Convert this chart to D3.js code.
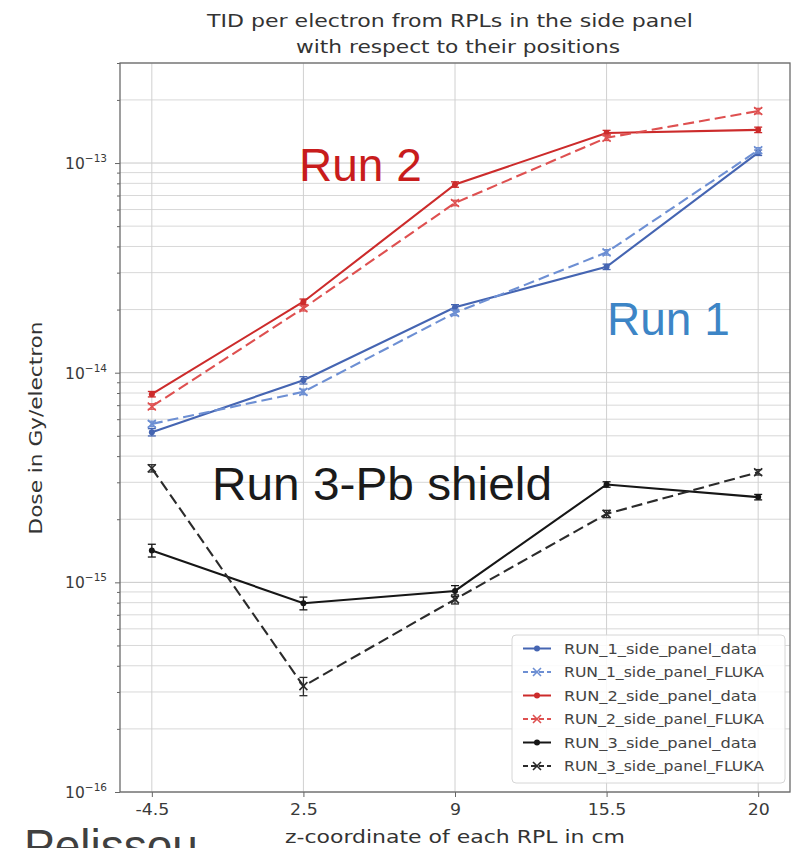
<!DOCTYPE html>
<html>
<head>
<meta charset="utf-8">
<script src="https://cdn.jsdelivr.net/npm/d3@7"></script>
<style>
  html, body { margin: 0; padding: 0; background: #fff; }
  svg { display: block; }
</style>
</head>
<body>
<svg id="chart" width="800" height="848"></svg>
<script>
// RPL positions along z (cm), shown as evenly spaced categories
const positions = ["-4.5", "2.5", "9", "15.5", "20"];

// Total ionising dose per electron (Gy/electron)
const run1Data  = [5.2e-15, 9.2e-15, 2.05e-14, 3.2e-14, 1.12e-13];
const run1Fluka = [5.7e-15, 8.1e-15, 1.93e-14, 3.75e-14, 1.15e-13];
const run2Data  = [7.9e-15, 2.18e-14, 7.9e-14, 1.39e-13, 1.44e-13];
const run2Fluka = [6.9e-15, 2.03e-14, 6.45e-14, 1.32e-13, 1.77e-13];
const run3Data  = [1.42e-15, 7.95e-16, 9.1e-16, 2.93e-15, 2.55e-15];
const run3Fluka = [3.5e-15, 3.2e-16, 8.3e-16, 2.12e-15, 3.35e-15];

// Relative uncertainties per point
const run1DataErr  = [0.04, 0.04, 0.03, 0.03, 0.03];
const run1FlukaErr = [0.03, 0.03, 0.03, 0.03, 0.03];
const run2DataErr  = [0.03, 0.03, 0.03, 0.03, 0.03];
const run2FlukaErr = [0.03, 0.03, 0.03, 0.03, 0.03];
const run3DataErr  = [0.07, 0.07, 0.06, 0.03, 0.03];
const run3FlukaErr = [0.04, 0.1, 0.05, 0.04, 0.03];

const seriesNames = [
  "RUN_1_side_panel_data", "RUN_1_side_panel_FLUKA",
  "RUN_2_side_panel_data", "RUN_2_side_panel_FLUKA",
  "RUN_3_side_panel_data", "RUN_3_side_panel_FLUKA"
];
const yTickLabels = ["−16", "−15", "−14", "−13"];

const series = [
  { name: seriesNames[0], values: run1Data,  err: run1DataErr,  color: "#4565b2", dashed: false, marker: "dot" },
  { name: seriesNames[1], values: run1Fluka, err: run1FlukaErr, color: "#6d8fd3", dashed: true,  marker: "x" },
  { name: seriesNames[2], values: run2Data,  err: run2DataErr,  color: "#cc2b2b", dashed: false, marker: "dot" },
  { name: seriesNames[3], values: run2Fluka, err: run2FlukaErr, color: "#de5050", dashed: true,  marker: "x" },
  { name: seriesNames[4], values: run3Data,  err: run3DataErr,  color: "#161616", dashed: false, marker: "dot" },
  { name: seriesNames[5], values: run3Fluka, err: run3FlukaErr, color: "#2b2b2b", dashed: true,  marker: "x" }
];

const svg = d3.select("#chart");
const plot = { left: 120, right: 790, top: 63, bottom: 792 };

const x = d3.scalePoint().domain(positions).range([plot.left, plot.right]).padding(0.21);
const y = d3.scaleLog().domain([1e-16, 3e-13]).range([plot.bottom, plot.top]);

const font = "'DejaVu Sans', sans-serif";

// Grid: all log ticks (major + minor) horizontally, categories vertically
const allTicks = y.ticks();
const isMajor = v => Math.abs(Math.log10(v) - Math.round(Math.log10(v))) < 1e-9;

const grid = svg.append("g");
grid.selectAll("line.h").data(allTicks).join("line")
  .attr("x1", plot.left).attr("x2", plot.right)
  .attr("y1", d => y(d)).attr("y2", d => y(d))
  .attr("stroke", d => isMajor(d) ? "#c8c8c8" : "#d8d8d8")
  .attr("stroke-width", 1);
grid.selectAll("line.v").data(positions).join("line")
  .attr("x1", d => x(d)).attr("x2", d => x(d))
  .attr("y1", plot.top).attr("y2", plot.bottom)
  .attr("stroke", "#d0d0d0").attr("stroke-width", 1);

// Axes
const xAxis = d3.axisBottom(x).tickSize(5).tickPadding(7);
const gx = svg.append("g").attr("transform", `translate(0,${plot.bottom})`).call(xAxis);
gx.select(".domain").remove();
gx.selectAll("line").attr("stroke", "#666");
gx.selectAll("text")
  .attr("font-family", font).attr("font-size", 15.5).attr("fill", "#3a3a3a")
  .attr("transform", "scale(1.12,1)");

const yAxis = d3.axisLeft(y)
  .tickValues(allTicks)
  .tickSize(0)
  .tickFormat("");
const gy = svg.append("g").attr("transform", `translate(${plot.left},0)`).call(yAxis);
gy.select(".domain").remove();
gy.selectAll(".tick line")
  .attr("x2", d => isMajor(d) ? -5 : -3)
  .attr("stroke", "#666");

// Power-of-ten labels with superscript exponent
const majors = allTicks.filter(isMajor);
const ylab = svg.append("g");
majors.forEach((v, i) => {
  const t = ylab.append("text")
    .attr("x", plot.left - 13).attr("y", y(v) + 6)
    .attr("text-anchor", "end")
    .attr("font-family", font).attr("font-size", 15.5).attr("fill", "#3a3a3a");
  t.append("tspan").text("10");
  t.append("tspan").attr("font-size", 10.5).attr("dy", -7).text(yTickLabels[i]);
});

// Frame
svg.append("rect")
  .attr("x", plot.left).attr("y", plot.top)
  .attr("width", plot.right - plot.left).attr("height", plot.bottom - plot.top)
  .attr("fill", "none").attr("stroke", "#6a6a6a").attr("stroke-width", 1.3);

// Series lines, error bars, markers
const line = d3.line().x((d, i) => x(positions[i])).y(d => y(d));

function drawMarker(g, kind, cx, cy, color) {
  if (kind === "dot") {
    g.append("circle").attr("cx", cx).attr("cy", cy).attr("r", 3).attr("fill", color);
  } else {
    const s = 4;
    g.append("path")
      .attr("d", `M${cx - s},${cy - s}L${cx + s},${cy + s}M${cx - s},${cy + s}L${cx + s},${cy - s}`)
      .attr("stroke", color).attr("stroke-width", 1.6).attr("fill", "none");
  }
}

series.forEach(s => {
  const g = svg.append("g");
  g.append("path")
    .datum(s.values)
    .attr("d", line)
    .attr("fill", "none")
    .attr("stroke", s.color)
    .attr("stroke-width", 2.1)
    .attr("stroke-dasharray", s.dashed ? "11,5" : null);
  s.values.forEach((v, i) => {
    const cx = x(positions[i]);
    const lo = y(v * (1 - s.err[i])), hi = y(v * (1 + s.err[i]));
    g.append("line").attr("x1", cx).attr("x2", cx).attr("y1", lo).attr("y2", hi)
      .attr("stroke", s.color).attr("stroke-width", 1.3);
    [lo, hi].forEach(yy => g.append("line")
      .attr("x1", cx - 4).attr("x2", cx + 4).attr("y1", yy).attr("y2", yy)
      .attr("stroke", s.color).attr("stroke-width", 1.3));
    drawMarker(g, s.marker, cx, y(v), s.color);
  });
});

// Legend
const lg = svg.append("g");
lg.append("rect")
  .attr("x", 512).attr("y", 635).attr("width", 273).attr("height", 148)
  .attr("rx", 4).attr("fill", "rgba(255,255,255,0.85)")
  .attr("stroke", "#d6d6d6").attr("stroke-width", 1);
series.forEach((s, i) => {
  const yy = 648.5 + i * 23.5;
  lg.append("line").attr("x1", 523).attr("x2", 551).attr("y1", yy).attr("y2", yy)
    .attr("stroke", s.color).attr("stroke-width", 2)
    .attr("stroke-dasharray", s.dashed ? "5,3" : null);
  drawMarker(lg, s.marker, 537, yy, s.color);
  lg.append("text")
    .attr("x", 564).attr("y", yy + 5)
    .attr("font-family", font).attr("font-size", 14).attr("fill", "#444")
    .attr("textLength", s.name.endsWith("FLUKA") ? 200 : 193)
    .attr("lengthAdjust", "spacingAndGlyphs")
    .text(s.name);
});

// Titles and axis labels
svg.append("text").attr("x", 450).attr("y", 27).attr("text-anchor", "middle")
  .attr("font-family", font).attr("font-size", 18).attr("fill", "#333")
  .attr("textLength", 486).attr("lengthAdjust", "spacingAndGlyphs")
  .text("TID per electron from RPLs in the side panel");
svg.append("text").attr("x", 458).attr("y", 53).attr("text-anchor", "middle")
  .attr("font-family", font).attr("font-size", 18).attr("fill", "#333")
  .attr("textLength", 324).attr("lengthAdjust", "spacingAndGlyphs")
  .text("with respect to their positions");
svg.append("text").attr("x", 455).attr("y", 843).attr("text-anchor", "middle")
  .attr("font-family", font).attr("font-size", 17).attr("fill", "#333")
  .attr("textLength", 340).attr("lengthAdjust", "spacingAndGlyphs")
  .text("z-coordinate of each RPL in cm");
svg.append("text")
  .attr("transform", "translate(42,428) rotate(-90)")
  .attr("text-anchor", "middle")
  .attr("font-family", font).attr("font-size", 18).attr("fill", "#333")
  .attr("textLength", 213).attr("lengthAdjust", "spacingAndGlyphs")
  .text("Dose in Gy/electron");

// Run annotations
const big = "'Liberation Sans', Arial, sans-serif";
svg.append("text").attr("x", 299).attr("y", 181)
  .attr("font-family", big).attr("font-size", 46).attr("fill", "#c81c1c").text("Run 2");
svg.append("text").attr("x", 607).attr("y", 335)
  .attr("font-family", big).attr("font-size", 46).attr("fill", "#3d85c6").text("Run 1");
svg.append("text").attr("x", 212).attr("y", 500)
  .attr("font-family", big).attr("font-size", 46).attr("fill", "#1a1a1a")
  .attr("textLength", 340).attr("lengthAdjust", "spacingAndGlyphs")
  .text("Run 3-Pb shield");
// Speaker credit, running off the lower edge of the slide
svg.append("text").attr("x", 24).attr("y", 862)
  .attr("font-family", big).attr("font-size", 46).attr("fill", "#404040").text("Pelissou");
</script>
</body>
</html>
